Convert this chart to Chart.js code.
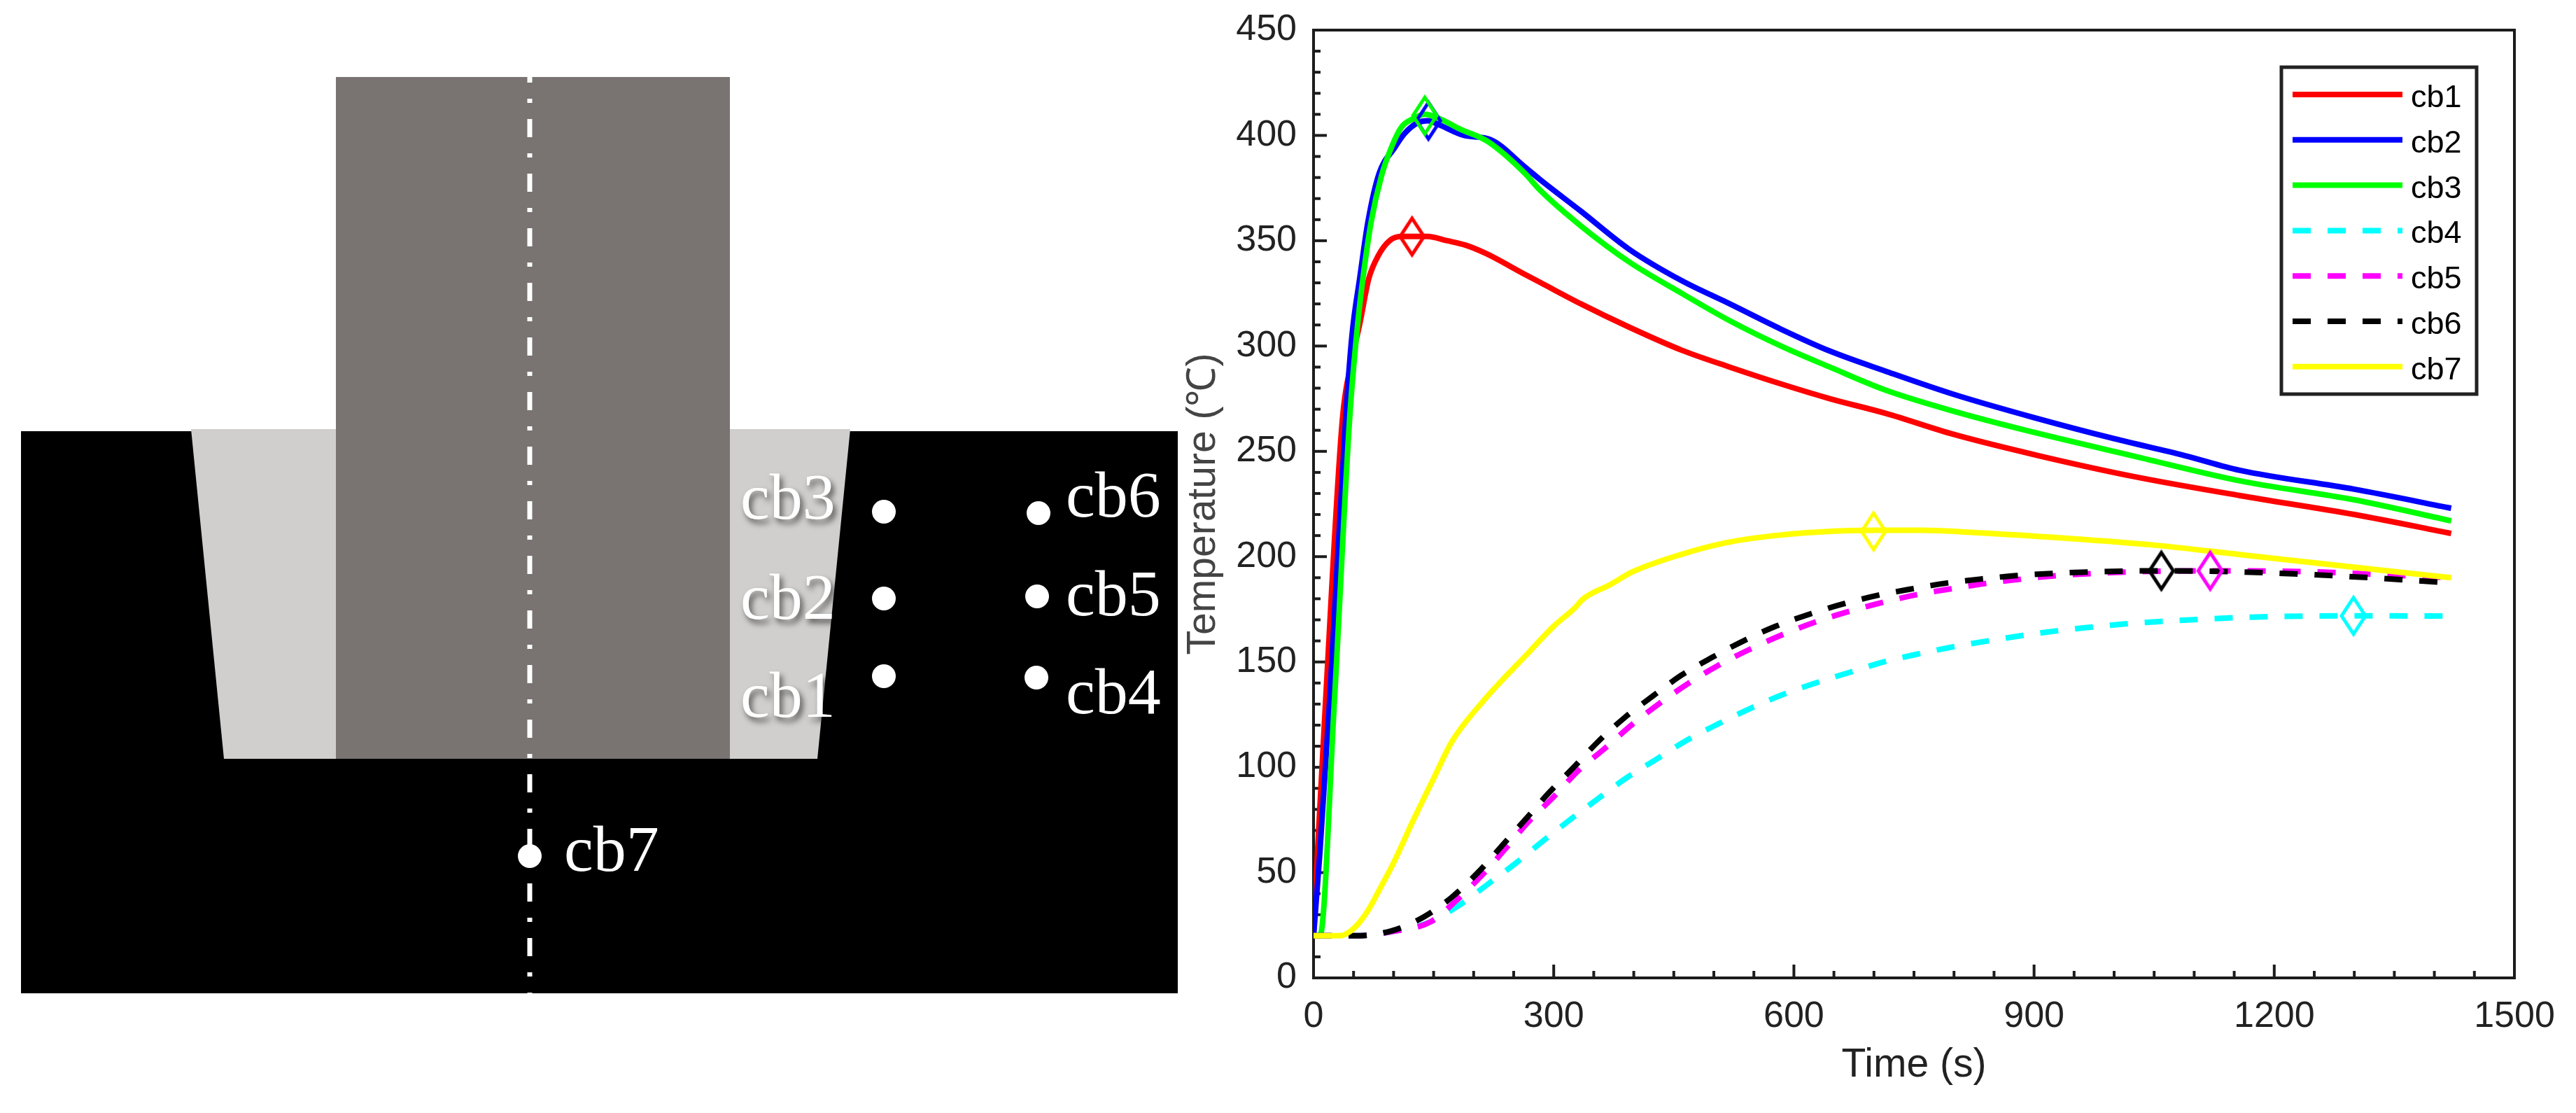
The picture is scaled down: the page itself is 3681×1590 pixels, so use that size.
<!DOCTYPE html>
<html>
<head>
<meta charset="utf-8">
<title>cb temperature</title>
<script src="https://cdn.jsdelivr.net/npm/chart.js@4"></script>
<style>
    html, body { margin: 0; padding: 0; background: #fff; }
    canvas { position: absolute; top: 0; }
    #sketch { left: 0; }
    #curves { left: 1660px; }
</style>
</head>
<body>
<canvas id="sketch" width="1690" height="1590"></canvas>
<canvas id="curves" width="2021" height="1590"></canvas>
<script>
// curve readings, time in s and temperature in C
const cb1Time = [0, 5, 15, 36, 47, 58, 69, 81, 95, 110, 123, 142, 167, 189, 215, 264, 284, 334, 394, 460, 520, 584, 645, 715, 800, 905, 1025, 1157, 1300, 1421];
const cb1Temp = [20, 60, 131, 265, 292, 311, 332, 343, 350, 352, 352, 352, 350, 348, 344, 334, 330, 320, 309, 298, 290, 282, 275, 268, 258, 248, 238, 229, 220, 211];
const cb2Time = [0, 8, 20, 40, 48, 58, 68, 82, 101, 114, 130, 143, 157, 188, 221, 264, 283, 334, 394, 460, 520, 584, 645, 715, 800, 900, 1000, 1088, 1157, 1300, 1421];
const cb2Temp = [20, 60, 131, 265, 305, 333, 359, 382, 394, 401, 406, 407, 405, 400, 398, 385, 379, 364, 346, 331, 320, 308, 297.6, 288, 277, 266, 256, 248, 241, 232, 223];
const cb3Time = [0, 8, 26, 45, 55, 62, 72, 85, 98, 110, 125, 139, 157, 183, 218, 264, 283, 334, 394, 460, 520, 584, 645, 715, 800, 900, 1022, 1157, 1300, 1421];
const cb3Temp = [20, 20, 131, 265, 310, 333, 359, 381, 395, 404, 408, 410, 408, 403, 397, 382, 374, 357, 340, 325, 312, 300, 290, 279, 269, 259, 248, 236, 227, 217];
const cb4Time = [0, 53, 98, 142, 180, 216, 251, 285, 320, 355, 391, 429, 467, 505, 546, 586, 627, 669, 712, 754, 799, 842, 886, 929, 973, 1017, 1061, 1105, 1150, 1194, 1299, 1421];
const cb4Temp = [20, 20, 22, 26, 34, 44, 54, 64.5, 75, 85, 95, 104, 113, 120.5, 128, 134.5, 140, 145, 150, 153.7, 157.2, 160, 162.6, 164.8, 166.6, 168.2, 169.3, 170.2, 171, 171.5, 171.9, 171.8];
const cb5Time = [0, 53, 98, 146, 178, 211, 239, 267, 300, 331, 364, 397, 432, 468, 506, 546, 586, 627, 669, 712, 754, 799, 842, 886, 929, 973, 1017, 1120, 1238, 1326, 1421];
const cb5Temp = [20, 20, 22, 26.6, 36.6, 49, 61, 73.5, 86, 98.5, 109, 120, 130.3, 139.8, 148.5, 156.2, 163, 169, 174, 178.4, 182, 184.9, 187.4, 189.4, 191, 192, 192.7, 193.3, 192.9, 191.6, 190];
const cb6Time = [0, 53, 98, 138, 173, 206, 236, 265, 294, 325, 355, 388, 423, 459, 498, 537, 577, 618, 661, 703, 746, 790, 834, 878, 922, 966, 1059, 1187, 1320, 1421];
const cb6Temp = [20, 20, 22.4, 29, 38.4, 50.3, 63, 75.4, 87.9, 100, 112, 123.4, 133.6, 143.6, 152.2, 160, 166.9, 172.5, 177.5, 181.5, 184.6, 187.4, 189.4, 191, 192, 192.7, 193.3, 192.4, 190, 187.5];
const cb7Time = [0, 33, 50, 68, 83, 100, 126, 151, 173, 211, 270, 300, 326, 337, 370, 398, 457, 515, 576, 632, 699, 759, 828, 938, 1047, 1157, 1266, 1421];
const cb7Temp = [20, 20, 23.4, 32, 42.4, 54.7, 76, 95.5, 112.3, 131, 155, 167, 175.5, 180, 186.6, 192.7, 200.8, 206.6, 210, 211.7, 212.5, 212.5, 211.4, 208.8, 205.6, 201, 196.4, 190];

// peak markers
const peakTime = [123, 143.5, 139, 1299, 1120, 1059, 699.5];
const peakTemp = [352, 407, 409.4, 171.9, 193.3, 193.3, 212];

const seriesNames = ["cb1", "cb2", "cb3", "cb4", "cb5", "cb6", "cb7"];
const seriesColors = ["#ff0000", "#0000ff", "#00ff00", "#00ffff", "#ff00ff", "#000000", "#ffff00"];
const seriesDashed = [false, false, false, true, true, true, false];
const seriesTimes = [cb1Time, cb2Time, cb3Time, cb4Time, cb5Time, cb6Time, cb7Time];
const seriesTemps = [cb1Temp, cb2Temp, cb3Temp, cb4Temp, cb5Temp, cb6Temp, cb7Temp];

const xTicks = [0, 300, 600, 900, 1200, 1500];
const yTicks = [0, 50, 100, 150, 200, 250, 300, 350, 400, 450];

// schematic outlines, in picture units
const blockOutline = [[30, 616], [1683, 616], [1683, 1419], [30, 1419]];
const linerOutline = [[273, 613], [1215, 613], [1168, 1084], [320, 1084]];
const punchOutline = [[480, 110], [1043, 110], [1043, 1084], [480, 1084]];
const axisLine = [[757, 110], [757, 1419]];
const sensorNames = ["cb1", "cb2", "cb3", "cb4", "cb5", "cb6", "cb7"];
const sensorX = [1263, 1263, 1263, 1481, 1482, 1484, 757];
const sensorY = [966, 855, 731, 968, 852, 733, 1223];
const labelX = [1058, 1058, 1058, 1523, 1523, 1523, 806];
const labelY = [1024, 884, 741, 1019, 879, 738, 1244];

function toPoints(list) {
    return list.map(function(p) { return { x: p[0], y: p[1] }; });
}

function shape(list, color, order) {
    return { data: toPoints(list), backgroundColor: color, borderWidth: 0, pointRadius: 0, fill: "shape", order: order };
}

const sensorLabels = {
    id: "sensorLabels",
    afterDatasetsDraw(chart) {
        const ctx = chart.ctx;
        ctx.save();
        ctx.font = "94px 'Liberation Serif'";
        ctx.fillStyle = "#ffffff";
        ctx.textBaseline = "alphabetic";
        sensorNames.forEach(function(name, i) {
            // the three on the grey part carry a drop shadow
            if (i < 3) {
                ctx.shadowColor = "rgba(0,0,0,0.6)";
                ctx.shadowBlur = 8;
                ctx.shadowOffsetX = 4;
                ctx.shadowOffsetY = 6;
            } else {
                ctx.shadowColor = "transparent";
            }
            ctx.fillText(name, chart.scales.x.getPixelForValue(labelX[i]), chart.scales.y.getPixelForValue(labelY[i]));
        });
        ctx.restore();
    }
};

new Chart(document.getElementById("sketch"), {
    type: "line",
    data: {
        datasets: [
            shape(blockOutline, "#000000", 5),
            shape(linerOutline, "#d0cfcd", 4),
            shape(punchOutline, "#797372", 3),
            { data: toPoints(axisLine), borderColor: "#ffffff", borderWidth: 7, borderDash: [26, 23, 6, 23], borderDashOffset: 18, pointRadius: 0, fill: false, order: 2 },
            { data: sensorX.map(function(x, i) { return { x: x, y: sensorY[i] }; }), showLine: false, pointRadius: 17, pointBackgroundColor: "#ffffff", pointBorderWidth: 0, order: 1 }
        ]
    },
    options: {
        responsive: false,
        animation: false,
        layout: { padding: 0, autoPadding: false },
        plugins: { legend: { display: false }, tooltip: { enabled: false } },
        scales: {
            x: { type: "linear", display: false, min: 0, max: 1690 },
            y: { type: "linear", display: false, min: 0, max: 1590, reverse: true }
        }
    },
    plugins: [sensorLabels]
});

function diamond(color) {
    var c = document.createElement("canvas");
    c.width = 44;
    c.height = 64;
    var g = c.getContext("2d");
    g.strokeStyle = color;
    g.lineWidth = 5;
    g.beginPath();
    g.moveTo(22, 6);
    g.lineTo(39, 32);
    g.lineTo(22, 58);
    g.lineTo(5, 32);
    g.closePath();
    g.stroke();
    return c;
}

const datasets = [];
seriesNames.forEach(function(name, i) {
    datasets.push({
        label: name,
        data: seriesTimes[i].map(function(t, k) { return { x: t, y: seriesTemps[i][k] }; }),
        borderColor: seriesColors[i],
        borderWidth: 8,
        borderDash: seriesDashed[i] ? [26, 24] : [],
        pointRadius: 0,
        fill: false,
        cubicInterpolationMode: "monotone",
        order: 20 - i
    });
});
seriesNames.forEach(function(name, i) {
    datasets.push({
        label: name + " peak",
        data: [{ x: peakTime[i], y: peakTemp[i] }],
        showLine: false,
        pointStyle: diamond(seriesColors[i]),
        order: 10 - i
    });
});

const axisFrame = {
    id: "axisFrame",
    beforeDatasetsDraw(chart) {
        const ctx = chart.ctx, a = chart.chartArea, xs = chart.scales.x, ys = chart.scales.y;
        ctx.save();
        ctx.strokeStyle = "#1c1c1c";
        ctx.lineWidth = 4;
        ctx.strokeRect(a.left, a.top, a.right - a.left, a.bottom - a.top);
        for (var v = 0; v <= 450; v += 10) {
            var y = ys.getPixelForValue(v);
            var len = yTicks.indexOf(v) >= 0 ? 19 : 10;
            ctx.beginPath();
            ctx.moveTo(a.left, y);
            ctx.lineTo(a.left + len, y);
            ctx.stroke();
        }
        for (var t = 0; t < 1500; t += 50) {
            var x = xs.getPixelForValue(t);
            var tick = xTicks.indexOf(t) >= 0 ? 19 : 10;
            ctx.beginPath();
            ctx.moveTo(x, a.bottom);
            ctx.lineTo(x, a.bottom - tick);
            ctx.stroke();
        }
        ctx.restore();
    }
};

const boxLegend = {
    id: "boxLegend",
    afterDatasetsDraw(chart) {
        const ctx = chart.ctx;
        const left = 3260 - 1660, top = 96, w = 279, h = 467;
        ctx.save();
        ctx.fillStyle = "#ffffff";
        ctx.fillRect(left, top, w, h);
        ctx.strokeStyle = "#222222";
        ctx.lineWidth = 5;
        ctx.strokeRect(left, top, w, h);
        ctx.font = "45px 'Liberation Sans'";
        ctx.textBaseline = "alphabetic";
        seriesNames.forEach(function(name, i) {
            var y = 135 + i * 64.8;
            ctx.strokeStyle = seriesColors[i];
            ctx.lineWidth = 8;
            ctx.setLineDash(seriesDashed[i] ? [26, 24] : []);
            ctx.beginPath();
            ctx.moveTo(left + 16, y);
            ctx.lineTo(left + 173, y);
            ctx.stroke();
            ctx.setLineDash([]);
            ctx.fillStyle = "#000000";
            ctx.fillText(name, left + 185, y + 18);
        });
        ctx.restore();
    }
};

function noPadding(s) {
    s.paddingTop = 0;
    s.paddingBottom = 0;
    s.paddingLeft = 0;
    s.paddingRight = 0;
}

new Chart(document.getElementById("curves"), {
    type: "line",
    data: { datasets: datasets },
    options: {
        responsive: false,
        animation: false,
        layout: { padding: { left: 0, top: 43, right: 88, bottom: 0 }, autoPadding: false },
        plugins: { legend: { display: false }, tooltip: { enabled: false } },
        scales: {
            x: {
                type: "linear",
                min: 0,
                max: 1500,
                afterBuildTicks: function(s) { s.ticks = xTicks.map(function(v) { return { value: v }; }); },
                afterFit: function(s) { s.height = 193; noPadding(s); },
                grid: { display: false, drawTicks: false },
                border: { display: false },
                ticks: { font: { family: "Liberation Sans", size: 52 }, color: "#222222", padding: 24, maxRotation: 0, autoSkip: false, callback: function(v) { return String(v); } },
                title: { display: true, text: "Time (s)", font: { family: "Liberation Sans", size: 57 }, color: "#222222", padding: { top: 0, bottom: 34 } }
            },
            y: {
                type: "linear",
                min: 0,
                max: 450,
                afterBuildTicks: function(s) { s.ticks = yTicks.map(function(v) { return { value: v }; }); },
                afterFit: function(s) { s.width = 217; noPadding(s); },
                grid: { display: false, drawTicks: false },
                border: { display: false },
                ticks: { font: { family: "Liberation Sans", size: 52 }, color: "#222222", padding: 24, autoSkip: false, callback: function(v) { return String(v); } },
                title: { display: true, text: "Temperature (℃)", font: { family: "Liberation Sans", size: 57 }, color: "#444444", padding: { top: 26, bottom: 0 } }
            }
        }
    },
    plugins: [axisFrame, boxLegend]
});
</script>
</body>
</html>
